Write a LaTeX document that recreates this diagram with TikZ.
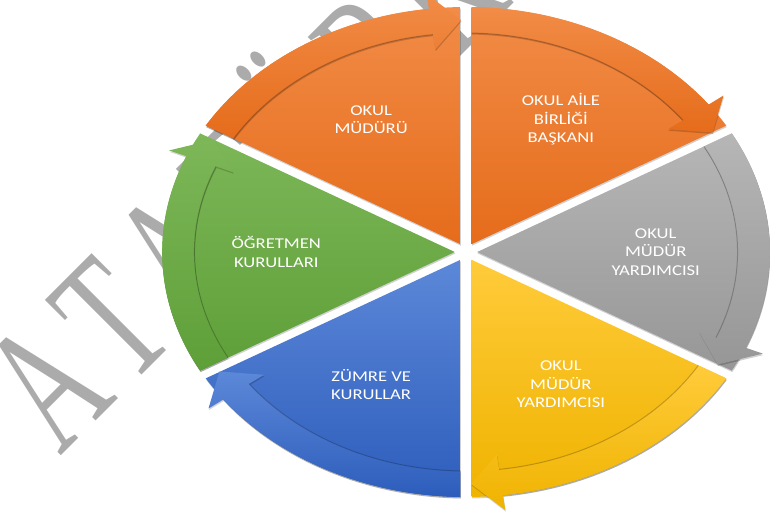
\documentclass[tikz,border=0pt]{standalone}
\usepackage{fontspec}
\setmainfont{Carlito}
\newfontfamily\wmfont[FakeStretch=0.62,Kerning=Off]{Liberation Serif}
\usetikzlibrary{shadows}

\definecolor{orTop}{HTML}{F28C47}
\definecolor{orBot}{HTML}{E56C1B}
\definecolor{grTop}{HTML}{B6B6B6}
\definecolor{grBot}{HTML}{979797}
\definecolor{ydTop}{HTML}{FFCB3A}
\definecolor{ydBot}{HTML}{EFB300}
\definecolor{blTop}{HTML}{5C88D8}
\definecolor{blBot}{HTML}{2D5DBC}
\definecolor{gnTop}{HTML}{7DB758}
\definecolor{gnBot}{HTML}{5E9F38}
\definecolor{wmgray}{HTML}{ABABAB}

% #1 = boundary on the left (ccw) side, #2 = boundary on the right (cw) side
\newcommand{\wedgepath}[2]{({(#1+#2)/2}:9) -- ({#2+1.05}:245)
  arc[start angle={#2+1.05}, end angle={#1-1.05}, radius=245] -- cycle}
\newcommand{\arrowpath}[2]{({#1-1.05}:245)
  arc[start angle={#1-1.05}, end angle={#2+7}, radius=245]
  -- ({#2+7}:260) -- ({#2+1}:232) -- ({#2+7}:204) -- ({#2+7}:219)
  arc[start angle={#2+7}, end angle={#1-1.2}, radius=219] -- cycle}
\newcommand{\innerarc}[2]{({#2+7}:219)
  arc[start angle={#2+7}, end angle={#1-1.2}, radius=219]}

\tikzset{
  segshadow/.style={drop shadow={shadow xshift=.5pt, shadow yshift=-1.5pt, fill=black, opacity=.18}},
  segwedge/.style={segshadow},
  segband/.style={segshadow},
  bandline/.style={draw=black, draw opacity=.22, line width=1pt},
  seglabel/.style={text=white, align=center, font=\fontsize{15}{18.5}\selectfont, transform shape},
  wmark/.style={text=wmgray, font=\wmfont\fontsize{185}{190}\selectfont, inner sep=0pt, anchor=base west}
}

\begin{document}
\begin{tikzpicture}[x=1pt,y=1pt]
  \useasboundingbox (-466,-265) rectangle (304,252);
  % watermark behind the cycle
  \node[wmark, rotate=45] (ataturk) at (-406,-205) {A\kern16pt T\kern16pt A\kern16pt T\kern16pt Ü\kern16pt R\kern16pt K};
  \begin{scope}[xscale=1.24]
    % wedges
    \shade[segwedge, top color=orTop, bottom color=orBot] \wedgepath{150}{90};
    \shade[segwedge, top color=orTop, bottom color=orBot] \wedgepath{90}{30};
    \shade[segwedge, top color=grTop, bottom color=grBot] \wedgepath{30}{-30};
    \shade[segwedge, top color=ydTop, bottom color=ydBot] \wedgepath{-30}{-90};
    \shade[segwedge, top color=blTop, bottom color=blBot] \wedgepath{-90}{-150};
    \shade[segwedge, top color=gnTop, bottom color=gnBot] \wedgepath{-150}{-210};
    % arrows on the rim
    \shade[segband, top color=orTop, bottom color=orBot] \arrowpath{150}{90};
    \draw[bandline] \innerarc{150}{90};
    \shade[segband, top color=orTop, bottom color=orBot] \arrowpath{90}{30};
    \draw[bandline] \innerarc{90}{30};
    \shade[segband, top color=grTop, bottom color=grBot] \arrowpath{30}{-30};
    \draw[bandline] \innerarc{30}{-30};
    \shade[segband, top color=ydTop, bottom color=ydBot] \arrowpath{-30}{-90};
    \draw[bandline] \innerarc{-30}{-90};
    \shade[segband, top color=blTop, bottom color=blBot] \arrowpath{-90}{-150};
    \draw[bandline] \innerarc{-90}{-150};
    \shade[segband, top color=gnTop, bottom color=gnBot] \arrowpath{-150}{-210};
    \draw[bandline] \innerarc{-150}{-210};
    % labels
    \node[seglabel] (mudur) at (120:153) {OKUL\\MÜDÜRÜ};
    \node[seglabel] (aile) at (60:153) {OKUL AİLE\\BİRLİĞİ\\BAŞKANI};
    \node[seglabel] (yardimci1) at (0:153) {OKUL\\MÜDÜR\\YARDIMCISI};
    \node[seglabel] (yardimci2) at (-60:153) {OKUL\\MÜDÜR\\YARDIMCISI};
    \node[seglabel] (zumre) at (-120:153) {ZÜMRE VE\\KURULLAR};
    \node[seglabel] (ogretmen) at (180:153) {ÖĞRETMEN\\KURULLARI};
  \end{scope}
\end{tikzpicture}
\end{document}
